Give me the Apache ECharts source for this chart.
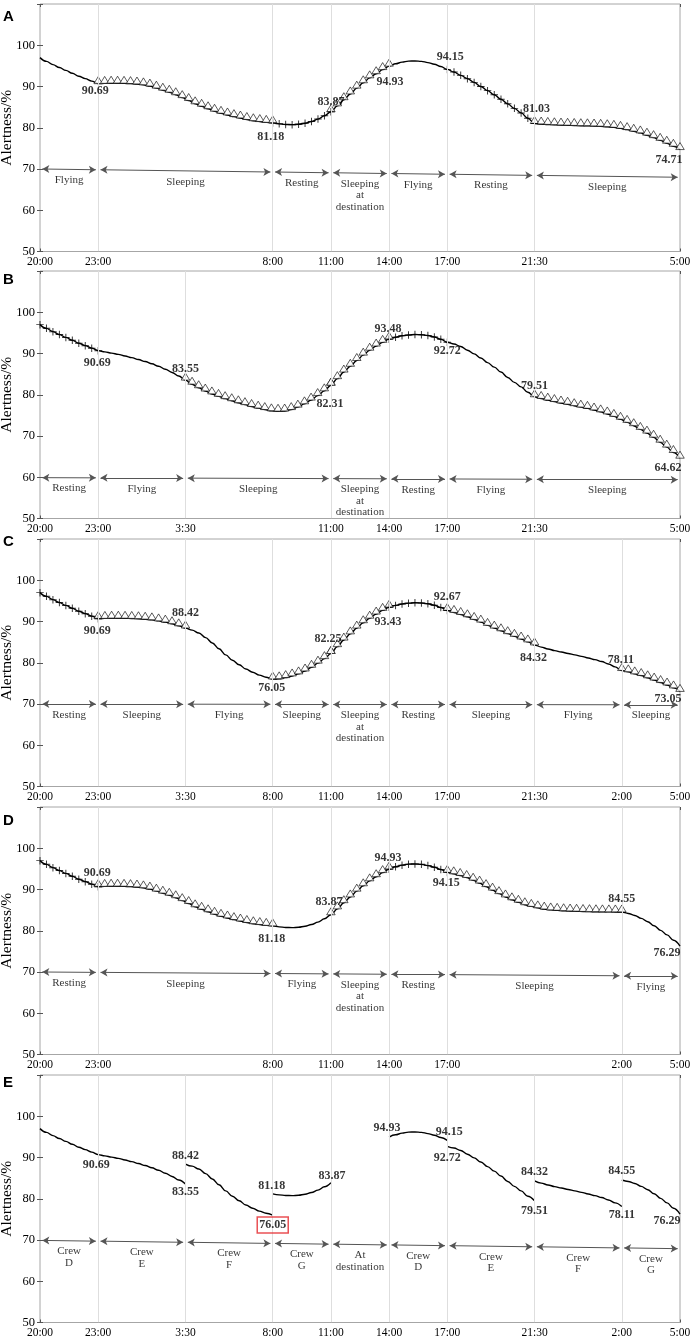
<!DOCTYPE html>
<html>
<head>
<meta charset="utf-8">
<title>Alertness</title>
<script src="https://cdn.jsdelivr.net/npm/echarts@6/dist/echarts.min.js"></script>
<style>
html, body { margin: 0; padding: 0; background: #fff; }
#chart { width: 692px; height: 1339px; }
</style>
</head>
<body>
<div id="chart"></div>
<script>
// hour 0 on the x axis is 20:00, axis runs 33 hours to 5:00
// each curve piece: values evenly spaced from its start hour to its end hour

var start0 = [97.0, 96.1, 95.3, 94.6, 93.9, 93.2, 92.5, 91.9, 91.3, 90.69];
var sleep3to12 = [90.69, 90.75, 90.8, 90.8, 90.77, 90.7, 90.6, 90.4, 90.1, 89.6, 89.1, 88.6, 88.0, 87.3,
    86.6, 85.8, 85.2, 84.6, 84.0, 83.5, 83.1, 82.7, 82.35, 82.0, 81.7, 81.5, 81.3, 81.18];
var rest12to15 = [81.18, 80.95, 80.8, 80.75, 80.85, 81.1, 81.5, 82.1, 82.9, 83.87];
var sleep15to18 = [83.87, 85.3, 86.8, 88.2, 89.6, 90.9, 92.1, 93.1, 94.1, 94.93];
var fly18to21 = [94.93, 95.5, 95.9, 96.15, 96.2, 96.1, 95.8, 95.4, 94.85, 94.15];
var restA21 = [94.15, 93.5, 92.7, 91.9, 91.0, 90.0, 89.0, 88.0, 86.9, 85.8, 84.7, 83.6, 82.3, 81.03];
var sleepA25 = [81.03, 80.9, 80.8, 80.72, 80.65, 80.6, 80.55, 80.5, 80.47, 80.42, 80.35, 80.25, 80.1, 79.85,
    79.55, 79.15, 78.75, 78.2, 77.6, 76.95, 76.25, 75.5, 74.71];

var flyB3 = [90.69, 90.4, 90.1, 89.8, 89.4, 89.0, 88.55, 88.05, 87.5, 86.9, 86.2, 85.4, 84.55, 83.55];
var sleepB7 = [83.55, 82.55, 81.7, 80.9, 80.2, 79.6, 79.05, 78.55, 78.05, 77.6, 77.15, 76.75, 76.4, 76.1,
    76.0, 76.05, 76.4, 77.0, 77.8, 78.7, 79.8, 80.95, 82.31];
var sleepB15 = [82.31, 83.9, 85.5, 86.9, 88.3, 89.6, 90.8, 91.8, 92.7, 93.48];
var restB18 = [93.48, 93.95, 94.3, 94.5, 94.6, 94.55, 94.35, 94.0, 93.45, 92.72];
var flyB21 = [92.72, 92.3, 91.7, 90.8, 89.9, 88.9, 87.8, 86.7, 85.5, 84.2, 83.0, 81.9, 80.6, 79.51];
var sleepB25 = [79.51, 79.1, 78.7, 78.35, 78.0, 77.7, 77.35, 77.0, 76.7, 76.3, 75.85, 75.35, 74.75, 74.05,
    73.3, 72.5, 71.6, 70.7, 69.7, 68.5, 67.3, 66.0, 64.62];

var sleepC3 = [90.69, 90.75, 90.8, 90.8, 90.78, 90.74, 90.67, 90.55, 90.4, 90.15, 89.85, 89.45, 88.95, 88.42];
var flyC7 = [88.42, 87.9, 87.2, 86.1, 84.8, 83.4, 81.9, 80.6, 79.5, 78.5, 77.7, 77.0, 76.5, 76.05];
var sleepC12 = [76.05, 76.1, 76.4, 76.8, 77.3, 78.0, 78.9, 79.9, 81.0, 82.25];
var sleepC15 = [82.25, 83.9, 85.5, 87.0, 88.4, 89.7, 90.8, 91.8, 92.7, 93.43];
var restC18 = [93.43, 93.9, 94.25, 94.45, 94.55, 94.5, 94.3, 93.95, 93.4, 92.67];
var sleepC21 = [92.67, 92.2, 91.7, 91.15, 90.5, 89.85, 89.05, 88.4, 87.75, 87.05, 86.4, 85.75, 85.05, 84.32];
var flyC25 = [84.32, 83.8, 83.35, 82.95, 82.6, 82.25, 81.9, 81.55, 81.15, 80.75, 80.3, 79.7, 79.0, 78.11];
var sleepC30 = [78.11, 77.8, 77.3, 76.9, 76.35, 75.8, 75.2, 74.6, 73.9, 73.05];

var sleepD21 = [94.15, 93.8, 93.4, 92.9, 92.25, 91.55, 90.7, 89.85, 89.0, 88.2, 87.5, 86.9, 86.3, 85.9,
    85.55, 85.25, 85.05, 84.95, 84.85, 84.78, 84.72, 84.67, 84.63, 84.6, 84.58, 84.57, 84.56, 84.55];
var flyD30 = [84.55, 84.2, 83.7, 83.0, 82.2, 81.2, 80.1, 79.0, 77.7, 76.29];

// [from, to, marker, values]  marker: tri = sleeping, plus = resting, none = flying
var piecesA = [[0, 3, 'none', start0], [3, 12, 'tri', sleep3to12], [12, 15, 'plus', rest12to15],
    [15, 18, 'tri', sleep15to18], [18, 21, 'none', fly18to21], [21, 25.5, 'plus', restA21], [25.5, 33, 'tri', sleepA25]];
var piecesB = [[0, 3, 'plus', start0], [3, 7.5, 'none', flyB3], [7.5, 15, 'tri', sleepB7],
    [15, 18, 'tri', sleepB15], [18, 21, 'plus', restB18], [21, 25.5, 'none', flyB21], [25.5, 33, 'tri', sleepB25]];
var piecesC = [[0, 3, 'plus', start0], [3, 7.5, 'tri', sleepC3], [7.5, 12, 'none', flyC7], [12, 15, 'tri', sleepC12],
    [15, 18, 'tri', sleepC15], [18, 21, 'plus', restC18], [21, 25.5, 'tri', sleepC21], [25.5, 30, 'none', flyC25],
    [30, 33, 'tri', sleepC30]];
var piecesD = [[0, 3, 'plus', start0], [3, 12, 'tri', sleep3to12], [12, 15, 'none', rest12to15],
    [15, 18, 'tri', sleep15to18], [18, 21, 'plus', fly18to21], [21, 30, 'tri', sleepD21], [30, 33, 'none', flyD30]];
var piecesE = [[0, 3, 'none', start0], [3, 7.5, 'none', flyB3], [7.5, 12, 'none', flyC7], [12, 15, 'none', rest12to15],
    [18, 21, 'none', fly18to21], [21, 25.5, 'none', flyB21], [25.5, 30, 'none', flyC25], [30, 33, 'none', flyD30]];

// tick hours per panel
var ticksA = [0, 3, 12, 15, 18, 21, 25.5, 33];
var ticksB = [0, 3, 7.5, 15, 18, 21, 25.5, 33];
var ticksC = [0, 3, 7.5, 12, 15, 18, 21, 25.5, 30, 33];
var ticksD = [0, 3, 12, 15, 18, 21, 30, 33];
var ticksE = [0, 3, 7.5, 12, 15, 18, 21, 25.5, 30, 33];

// activities under the curves
var actsA = [[0, 3, 'Flying'], [3, 12, 'Sleeping'], [12, 15, 'Resting'], [15, 18, 'Sleeping\nat\ndestination'],
    [18, 21, 'Flying'], [21, 25.5, 'Resting'], [25.5, 33, 'Sleeping']];
var actsB = [[0, 3, 'Resting'], [3, 7.5, 'Flying'], [7.5, 15, 'Sleeping'], [15, 18, 'Sleeping\nat\ndestination'],
    [18, 21, 'Resting'], [21, 25.5, 'Flying'], [25.5, 33, 'Sleeping']];
var actsC = [[0, 3, 'Resting'], [3, 7.5, 'Sleeping'], [7.5, 12, 'Flying'], [12, 15, 'Sleeping'],
    [15, 18, 'Sleeping\nat\ndestination'], [18, 21, 'Resting'], [21, 25.5, 'Sleeping'], [25.5, 30, 'Flying'],
    [30, 33, 'Sleeping']];
var actsD = [[0, 3, 'Resting'], [3, 12, 'Sleeping'], [12, 15, 'Flying'], [15, 18, 'Sleeping\nat\ndestination'],
    [18, 21, 'Resting'], [21, 30, 'Sleeping'], [30, 33, 'Flying']];
var actsE = [[0, 3, 'Crew\nD'], [3, 7.5, 'Crew\nE'], [7.5, 12, 'Crew\nF'], [12, 15, 'Crew\nG'],
    [15, 18, 'At\ndestination'], [18, 21, 'Crew\nD'], [21, 25.5, 'Crew\nE'], [25.5, 30, 'Crew\nF'], [30, 33, 'Crew\nG']];

// labelled values [hour, value]
var valsA = [[3, 90.69], [12, 81.18], [15, 83.87], [18, 94.93], [21, 94.15], [25.5, 81.03], [33, 74.71]];
var valsB = [[3, 90.69], [7.5, 83.55], [15, 82.31], [18, 93.48], [21, 92.72], [25.5, 79.51], [33, 64.62]];
var valsC = [[3, 90.69], [7.5, 88.42], [12, 76.05], [15, 82.25], [18, 93.43], [21, 92.67], [25.5, 84.32],
    [30, 78.11], [33, 73.05]];
var valsD = [[3, 90.69], [12, 81.18], [15, 83.87], [18, 94.93], [21, 94.15], [30, 84.55], [33, 76.29]];
var valsE = [[3, 90.69], [7.5, 88.42], [7.5, 83.55], [12, 76.05], [12, 81.18], [15, 83.87], [18, 94.93],
    [21, 94.15], [21, 92.72], [25.5, 84.32], [25.5, 79.51], [30, 78.11], [30, 84.55], [33, 76.29]];

// label placement (px from the point)
var offsA = [[-3, 7], [-2, 14], [0, -10], [1, 16], [3, -12], [2, -15], [-11, 10]];
var offsB = [[-1, 12], [0, -11], [-1, 19], [-1, -10], [0, 9], [0, -11], [-12, 10]];
var offsC = [[-1, 12], [0, -15], [-1, 9], [-3, -15], [-1, 15], [0, -14], [-1, 13], [-1, -11], [-12, 7]];
var offsD = [[-1, -14], [-1, 13], [-2, -13], [-1, -11], [-1, 11], [0, -13], [-13, 7]];
var offsE = [[-2, 10], [0, -8], [0, 8], [0, 10], [-1, -8], [1, -7], [-2, -9], [2, -8], [0, 12], [0, -9],
    [0, 10], [0, 8], [0, -9], [-13, 7]];

var panels = [
    {letter: 'A', pieces: piecesA, ticks: ticksA, acts: actsA, vals: valsA, offs: offsA, arrow: [70, 68], top: 4, letterTop: 9},
    {letter: 'B', pieces: piecesB, ticks: ticksB, acts: actsB, vals: valsB, offs: offsB, arrow: [59.9, 59.4], top: 271, letterTop: 272},
    {letter: 'C', pieces: piecesC, ticks: ticksC, acts: actsC, vals: valsC, offs: offsC, arrow: [70, 69.8], top: 539, letterTop: 534},
    {letter: 'D', pieces: piecesD, ticks: ticksD, acts: actsD, vals: valsD, offs: offsD, arrow: [70, 69], top: 807, letterTop: 813},
    {letter: 'E', pieces: piecesE, ticks: ticksE, acts: actsE, vals: valsE, offs: offsE, arrow: [69.9, 67.9], top: 1075, letterTop: 1075, boxed: 3}
];

var SERIF = "'Liberation Serif','Times New Roman',Times,serif";
var SANS = "'Liberation Sans',Arial,Helvetica,sans-serif";
var PLUS = 'path://M4.35,0h1.3v4.35h4.35v1.3h-4.35v4.35h-1.3v-4.35h-4.35v-1.3h4.35z';

function clock(h) {
    var t = (20 + h) % 24;
    var hh = Math.floor(t), mm = Math.round((t - hh) * 60);
    return hh + ':' + (mm < 10 ? '0' : '') + mm;
}

function piecePoints(p) {
    var vals = p[3], step = (p[1] - p[0]) / (vals.length - 1), pts = [];
    for (var i = 0; i < vals.length; i++) pts.push([p[0] + i * step, vals[i]]);
    return pts;
}

function lineData(pieces) {
    var out = [], last = null;
    pieces.forEach(function (p) {
        var pts = piecePoints(p);
        if (last) {
            if (last[0] === pts[0][0] && last[1] === pts[0][1]) pts.shift();
            else out.push([pts[0][0], null]);
        }
        out = out.concat(pts);
        last = out[out.length - 1];
    });
    return out;
}

function markerData(pieces, kind) {
    var out = [];
    pieces.forEach(function (p) {
        if (p[2] === kind) out = out.concat(piecePoints(p));
    });
    return out;
}

var grids = [], xAxes = [], yAxes = [], series = [], titles = [];

panels.forEach(function (p, i) {
    var xi = 2 * i, yi = 2 * i;
    grids.push({left: 40, right: 12, top: p.top, height: 247.5, show: true, borderColor: '#a6a6a6', borderWidth: 1,
        containLabel: false, outerBoundsMode: 'none'});
    titles.push({text: p.letter, left: 3, top: p.letterTop, padding: 0,
        textStyle: {fontFamily: SANS, fontWeight: 'bold', fontSize: 15, color: '#000'}});

    var tickX = {show: true, inside: true, length: 3, customValues: p.ticks, lineStyle: {color: '#555'}};
    xAxes.push({gridIndex: i, type: 'value', min: 0, max: 33, position: 'bottom',
        axisLine: {show: false}, axisTick: tickX, splitLine: {show: false},
        axisLabel: {customValues: p.ticks, formatter: clock, fontFamily: SERIF, fontSize: 11.5, color: '#000', margin: 4}});
    xAxes.push({gridIndex: i, type: 'value', min: 0, max: 33, position: 'top',
        axisLine: {show: false}, axisTick: tickX, splitLine: {show: false}, axisLabel: {show: false}});

    var tickY = {show: true, inside: true, length: 3, lineStyle: {color: '#555'}};
    yAxes.push({gridIndex: i, type: 'value', min: 50, max: 110, interval: 10, position: 'left',
        name: 'Alertness/%', nameLocation: 'middle', nameGap: 25, nameMoveOverlap: false,
        nameTextStyle: {fontFamily: SERIF, fontSize: 15.5, color: '#000'},
        axisLine: {show: false}, axisTick: tickY, splitLine: {show: false},
        axisLabel: {formatter: function (v) { return v > 100 ? '' : v; }, fontFamily: SERIF, fontSize: 12.5, color: '#000', margin: 5}});
    yAxes.push({gridIndex: i, type: 'value', min: 50, max: 110, interval: 10, position: 'right',
        axisLine: {show: false}, axisTick: tickY, splitLine: {show: false}, axisLabel: {show: false}});

    // vertical grid lines at the ticks
    series.push({type: 'line', xAxisIndex: xi, yAxisIndex: yi, data: [], silent: true, z: 1,
        markLine: {silent: true, symbol: ['none', 'none'], label: {show: false}, emphasis: {disabled: true},
            lineStyle: {color: '#dedede', width: 1, type: 'solid'},
            data: p.ticks.filter(function (t) { return t > 0 && t < 33; }).map(function (t) { return {xAxis: t}; })}});

    // activity arrows
    var lv = p.arrow;
    function lvAt(t) { return lv[0] + (lv[1] - lv[0]) * t / 33; }
    series.push({type: 'line', xAxisIndex: xi, yAxisIndex: yi, data: [], silent: true, z: 2,
        markLine: {silent: true, symbol: ['arrow', 'arrow'], symbolSize: [6, 7], label: {show: false},
            emphasis: {disabled: true}, lineStyle: {color: '#555', width: 1, type: 'solid'},
            data: p.acts.map(function (a) {
                return [{coord: [a[0] + 0.12, lvAt(a[0])]}, {coord: [a[1] - 0.12, lvAt(a[1])]}];
            })}});
    series.push({type: 'scatter', xAxisIndex: xi, yAxisIndex: yi, silent: true, z: 2,
        symbolSize: 1, itemStyle: {color: 'rgba(0,0,0,0)'},
        label: {show: true, position: 'inside', verticalAlign: 'top', offset: [0, 5], formatter: '{b}',
            fontFamily: SERIF, fontSize: 11, lineHeight: 11.5, color: '#000'},
        data: p.acts.map(function (a) {
            var m = (a[0] + a[1]) / 2;
            return {name: a[2], value: [m, lvAt(m)]};
        })});

    // alertness curve
    series.push({type: 'line', xAxisIndex: xi, yAxisIndex: yi, data: lineData(p.pieces), silent: true, z: 3,
        smooth: 0.4, smoothMonotone: 'x', showSymbol: false, connectNulls: false,
        lineStyle: {color: '#000', width: 1.4}});
    series.push({type: 'scatter', xAxisIndex: xi, yAxisIndex: yi, data: markerData(p.pieces, 'tri'), silent: true, z: 4,
        symbol: 'triangle', symbolSize: [8.5, 7], symbolOffset: [0, -3.5],
        itemStyle: {color: '#fff', borderColor: '#000', borderWidth: 0.8}});
    series.push({type: 'scatter', xAxisIndex: xi, yAxisIndex: yi, data: markerData(p.pieces, 'plus'), silent: true, z: 4,
        symbol: PLUS, symbolSize: 7.5, itemStyle: {color: '#000'}});

    // value labels
    series.push({type: 'scatter', xAxisIndex: xi, yAxisIndex: yi, silent: true, z: 5,
        symbolSize: 1, itemStyle: {color: 'rgba(0,0,0,0)'},
        label: {show: true, position: 'inside', fontFamily: SERIF, fontWeight: 'bold', fontSize: 12, color: '#000',
            formatter: function (d) { return d.value[1].toFixed(2); }},
        data: p.vals.map(function (v, k) {
            var item = {value: v, label: {offset: p.offs[k]}};
            if (p.boxed === k) {
                item.label.borderColor = '#e3262b';
                item.label.borderWidth = 1.5;
                item.label.padding = [3, 2, 1, 2];
            }
            return item;
        })});
});

var chart = echarts.init(document.getElementById('chart'), null, {renderer: 'canvas'});
chart.setOption({
    animation: false,
    backgroundColor: '#fff',
    title: titles,
    grid: grids,
    xAxis: xAxes,
    yAxis: yAxes,
    series: series
});
</script>
</body>
</html>
